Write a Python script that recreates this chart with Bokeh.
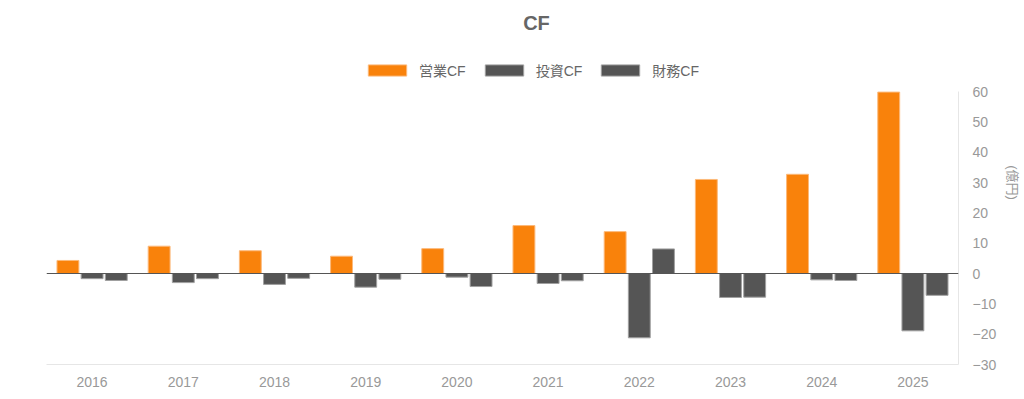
from bokeh.plotting import figure
from bokeh.models import (ColumnDataSource, FactorRange, Range1d, Span, Label,
                          Legend, LegendItem, FixedTicker)
from bokeh.transform import dodge
from bokeh.embed import file_html
from bokeh.resources import INLINE

years = ["2016", "2017", "2018", "2019", "2020", "2021", "2022", "2023", "2024", "2025"]
operating_cf = [4.3, 9.0, 7.5, 5.7, 8.2, 15.8, 13.8, 31.0, 32.7, 59.8]
investing_cf = [-1.7, -3.0, -3.6, -4.5, -1.2, -3.3, -21.2, -7.9, -2.1, -18.9]
financing_cf = [-2.3, -1.7, -1.6, -1.9, -4.3, -2.4, 8.1, -7.8, -2.3, -7.2]
series_names = ["営業CF", "投資CF", "財務CF"]
y_ticks = [-30, -20, -10, 0, 10, 20, 30, 40, 50, 60]

FONT = "Liberation Sans, 'Noto Sans CJK JP'"

src = ColumnDataSource(dict(year=years, op=operating_cf, inv=investing_cf, fin=financing_cf))

# frame spans the full height so that title and legend sit inside it;
# the visible axis itself is bounded to -30..60
p = figure(width=1024, height=399, output_backend="svg", toolbar_location=None,
           x_range=FactorRange(*years, range_padding=0), y_range=Range1d(-30, 90),
           y_axis_location="right",
           min_border_left=46, min_border_right=66, min_border_top=0, min_border_bottom=35)
p.outline_line_color = None
p.background_fill_color = "white"
p.xgrid.visible = False
p.ygrid.visible = False

w = 0.24
r1 = p.vbar(x=dodge("year", -0.265, range=p.x_range), top="op", bottom=0, width=w, source=src,
            fill_color="#F9820B", line_color="#FCB97A", line_width=1)
r2 = p.vbar(x=dodge("year", 0.0, range=p.x_range), top="inv", bottom=0, width=w, source=src,
            fill_color="#555555", line_color="#A0A0A0", line_width=1)
r3 = p.vbar(x=dodge("year", 0.265, range=p.x_range), top="fin", bottom=0, width=w, source=src,
            fill_color="#555555", line_color="#A0A0A0", line_width=1)

p.add_layout(Span(location=0, dimension="width", line_color="#555555", line_width=1))

# y axis (right)
ya = p.yaxis[0]
ya.ticker = FixedTicker(ticks=y_ticks)
ya.bounds = (-30, 60)
ya.axis_line_color = "#E6E6E6"
ya.major_tick_line_color = None
ya.minor_tick_line_color = None
ya.major_tick_out = 0
ya.major_tick_in = 0
ya.major_label_text_color = "#999999"
ya.major_label_text_font = FONT
ya.major_label_text_font_size = "14px"
ya.major_label_standoff = 14
ya.axis_label = "(億円)"
ya.axis_label_text_font = FONT
ya.axis_label_text_font_size = "13px"
ya.axis_label_text_font_style = "normal"
ya.axis_label_text_color = "#999999"
ya.axis_label_standoff = 6

xa = p.xaxis[0]
xa.axis_line_color = "#E6E6E6"
xa.major_tick_line_color = None
xa.minor_tick_line_color = None
xa.major_tick_out = 0
xa.major_tick_in = 0
xa.major_label_text_color = "#999999"
xa.major_label_text_font = FONT
xa.major_label_text_font_size = "14px"
xa.major_label_standoff = 12

legend = Legend(items=[LegendItem(label=series_names[0], renderers=[r1]),
                       LegendItem(label=series_names[1], renderers=[r2]),
                       LegendItem(label=series_names[2], renderers=[r3])],
                orientation="horizontal", location=(317, 284),
                glyph_width=48, glyph_height=14, label_standoff=8, spacing=14,
                padding=0, margin=0, border_line_color=None, background_fill_alpha=0,
                label_text_font=FONT, label_text_font_size="14px", label_text_color="#666666")
p.add_layout(legend)

p.add_layout(Label(x=490, y=342, x_units="screen", y_units="screen", text="CF",
                   text_align="center", text_baseline="middle", text_font=FONT,
                   text_font_size="20px", text_font_style="bold", text_color="#666666"))

open("out.html", "w").write(file_html(p, INLINE))
